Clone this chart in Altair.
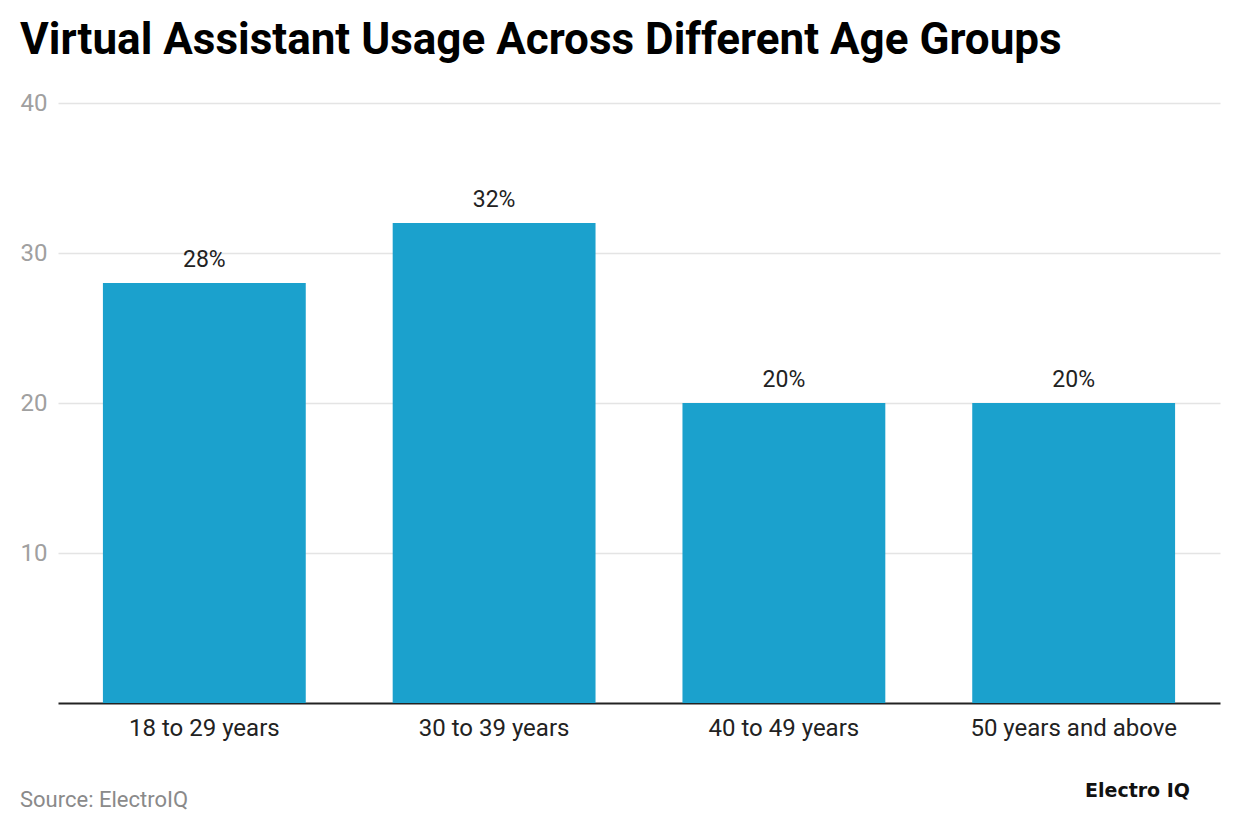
import altair as alt
import pandas as pd

categories = ["18 to 29 years", "30 to 39 years", "40 to 49 years", "50 years and above"]
values = [28, 32, 20, 20]
labels = ["28%", "32%", "20%", "20%"]
y_ticks = [10, 20, 30, 40]

df = pd.DataFrame({"group": categories, "value": values, "label": labels})

FONT = "Roboto"

x_enc = alt.X(
    "group:N",
    sort=categories,
    scale=alt.Scale(paddingInner=0.3, paddingOuter=0.155),
    axis=alt.Axis(
        title=None,
        labelAngle=0,
        labelFont=FONT,
        labelFontSize=24,
        labelColor="#222222",
        labelBaseline="alphabetic",
        labelPadding=32,
        labelLimit=1000,
        ticks=False,
        tickSize=0,
        domainColor="#222222",
        domainWidth=2,
        grid=False,
    ),
)
y_enc = alt.Y(
    "value:Q",
    scale=alt.Scale(domain=[0, 40], nice=False),
    axis=alt.Axis(
        title=None,
        values=y_ticks,
        labelFont=FONT,
        labelFontSize=24,
        labelColor="#a0a0a0",
        labelPadding=11,
        ticks=False,
        tickSize=0,
        domain=False,
        grid=True,
        gridColor="#e4e4e4",
        gridWidth=1.5,
    ),
)

base = alt.Chart(df)

bars = base.mark_bar(color="#1ba1cd").encode(x=x_enc, y=y_enc)

text = base.mark_text(
    font=FONT, fontSize=23, color="#222222", baseline="alphabetic", dy=-16
).encode(x=alt.X("group:N", sort=categories), y="value:Q", text="label:N")

notes = pd.DataFrame({"t": ["Source: ElectroIQ"]})
source = alt.Chart(notes).mark_text(
    font=FONT, fontSize=22, color="#8a8a8a", align="left", baseline="alphabetic"
).encode(x=alt.value(-38), y=alt.value(704), text="t:N")

logo_df = pd.DataFrame({"t": ["Electro IQ"]})
logo = alt.Chart(logo_df).mark_text(
    font="DejaVu Sans", fontWeight="bold", fontSize=19, color="#111111",
    align="left", baseline="alphabetic"
).encode(x=alt.value(1027), y=alt.value(694), text="t:N")

chart = (
    alt.layer(bars, text, source, logo)
    .properties(
        width=1162,
        height=600,
        background="white",
        autosize=alt.AutoSizeParams(type="none"),
        padding={"left": 50, "top": 95, "right": 12, "bottom": 123},
        title=alt.TitleParams(
            "Virtual Assistant Usage Across Different Age Groups",
            anchor="start",
            frame="group",
            font=FONT,
            fontSize=44,
            fontWeight="bold",
            color="#000000",
            baseline="alphabetic",
            offset=46,
            dx=-38,
            dy=53,
        ),
    )
    .configure_view(stroke="transparent", strokeWidth=0)
)

chart.save("out.html", embed_options={"renderer": "svg", "actions": False})
